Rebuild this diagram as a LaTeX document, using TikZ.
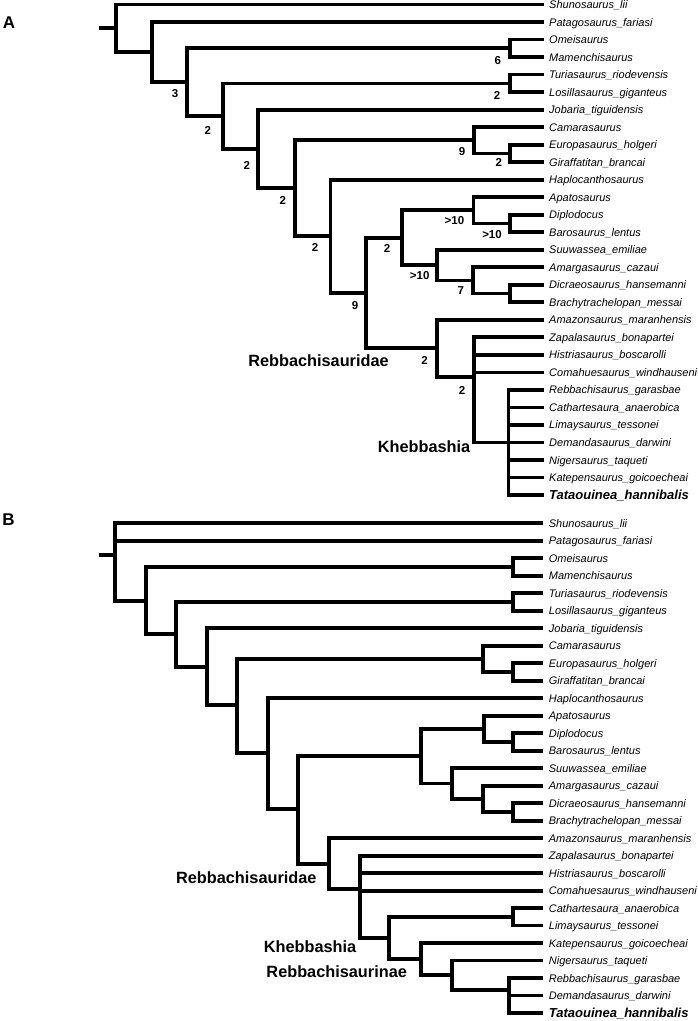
\documentclass[tikz,border=0pt]{standalone}
\usepackage{fontspec}
\setmainfont{Liberation Sans}
\begin{document}
\begin{tikzpicture}[x=1pt,y=-1pt,
  br/.style={line width=3.8pt, line join=miter, line cap=butt, black},
  tiplab/.style={anchor=base west, inner sep=0pt, font=\fontsize{11}{13}\selectfont\itshape},
  tipbold/.style={anchor=base west, inner sep=0pt, font=\fontsize{13}{15}\selectfont\bfseries\itshape},
  suplab/.style={anchor=center, inner sep=0pt, font=\fontsize{11.5}{13}\selectfont\bfseries},
  cladelab/.style={anchor=center, inner sep=0pt, font=\fontsize{16.3}{18}\selectfont\bfseries},
  panellab/.style={anchor=center, inner sep=0pt, font=\fontsize{17}{19}\selectfont\bfseries}]
\useasboundingbox (0,0) rectangle (698,1021);
% ---------------- Panel A ----------------
\node[panellab] (pA) at (9,22.7) {A};
\foreach \i/\nm in {0/Shunosaurus\_lii,1/Patagosaurus\_fariasi,2/Omeisaurus,3/Mamenchisaurus,
  4/Turiasaurus\_riodevensis,5/Losillasaurus\_giganteus,6/Jobaria\_tiguidensis,7/Camarasaurus,
  8/Europasaurus\_holgeri,9/Giraffatitan\_brancai,10/Haplocanthosaurus,11/Apatosaurus,
  12/Diplodocus,13/Barosaurus\_lentus,14/Suuwassea\_emiliae,15/Amargasaurus\_cazaui,
  16/Dicraeosaurus\_hansemanni,17/Brachytrachelopan\_messai,18/Amazonsaurus\_maranhensis,
  19/Zapalasaurus\_bonapartei,20/Histriasaurus\_boscarolli,21/Comahuesaurus\_windhauseni,
  22/Rebbachisaurus\_garasbae,23/Cathartesaura\_anaerobica,24/Limaysaurus\_tessonei,
  25/Demandasaurus\_darwini,26/Nigersaurus\_taqueti,27/Katepensaurus\_goicoecheai}{
  \coordinate (tA\i) at (544,{4.5+17.52*\i});
  \node[tiplab] (lA\i) at (549,{4.5+17.52*\i+4}) {\nm};
}
\coordinate (tA28) at (544,495.1);
\node[tipbold] (lA28) at (549,499.8) {Tataouinea\_hannibalis};

\coordinate (stubA) at (99,28.3);
\coordinate (rootA) at (116,28.3);
\coordinate (a1) at (151.7,52.1);
\coordinate (a2) at (186.7,82.2);
\coordinate (aOm) at (510,48.3);
\coordinate (a3) at (222.7,116.1);
\coordinate (aTu) at (510,83.4);
\coordinate (a4) at (258.3,148.9);
\coordinate (a5) at (295,188.3);
\coordinate (aCa) at (474.3,140.2);
\coordinate (aEu) at (510,153.4);
\coordinate (a6) at (330.5,236.3);
\coordinate (a7) at (366,293);
\coordinate (aFl) at (401.7,237.7);
\coordinate (aDi) at (473.5,210.3);
\coordinate (aDB) at (510,223.5);
\coordinate (aDc) at (437,265.1);
\coordinate (aAm) at (473,280.4);
\coordinate (aDB2) at (510,293.5);
\coordinate (aRe) at (437,348.2);
\coordinate (aPo) at (474,376.6);
\coordinate (aKh) at (508.5,442.5);

\draw[br] (stubA) -- (rootA);
\draw[br] (rootA) |- (tA0);  \draw[br] (rootA) |- (a1);
\draw[br] (a1) |- (tA1);     \draw[br] (a1) |- (a2);
\draw[br] (a2) |- (aOm);     \draw[br] (a2) |- (a3);
\draw[br] (aOm) |- (tA2);    \draw[br] (aOm) |- (tA3);
\draw[br] (a3) |- (aTu);     \draw[br] (a3) |- (a4);
\draw[br] (aTu) |- (tA4);    \draw[br] (aTu) |- (tA5);
\draw[br] (a4) |- (tA6);     \draw[br] (a4) |- (a5);
\draw[br] (a5) |- (aCa);     \draw[br] (a5) |- (a6);
\draw[br] (aCa) |- (tA7);    \draw[br] (aCa) |- (aEu);
\draw[br] (aEu) |- (tA8);    \draw[br] (aEu) |- (tA9);
\draw[br] (a6) |- (tA10);    \draw[br] (a6) |- (a7);
\draw[br] (a7) |- (aFl);     \draw[br] (a7) |- (aRe);
\draw[br] (aFl) |- (aDi);    \draw[br] (aFl) |- (aDc);
\draw[br] (aDi) |- (tA11);   \draw[br] (aDi) |- (aDB);
\draw[br] (aDB) |- (tA12);   \draw[br] (aDB) |- (tA13);
\draw[br] (aDc) |- (tA14);   \draw[br] (aDc) |- (aAm);
\draw[br] (aAm) |- (tA15);   \draw[br] (aAm) |- (aDB2);
\draw[br] (aDB2) |- (tA16);  \draw[br] (aDB2) |- (tA17);
\draw[br] (aRe) |- (tA18);   \draw[br] (aRe) |- (aPo);
\foreach \k in {19,20,21} {\draw[br] (aPo) |- (tA\k);}
\draw[br] (aPo) |- (aKh);
\foreach \k in {22,...,28} {\draw[br] (aKh) |- (tA\k);}

\node[suplab] (sA2) at (175,94) {3};
\node[suplab] (sAOm) at (497.7,61) {6};
\node[suplab] (sA3) at (207.7,130.7) {2};
\node[suplab] (sATu) at (497,95) {2};
\node[suplab] (sA4) at (246.7,165) {2};
\node[suplab] (sA5) at (282.7,200) {2};
\node[suplab] (sACa) at (462,151.7) {9};
\node[suplab] (sAEu) at (498.7,162.7) {2};
\node[suplab] (sA6) at (315,247) {2};
\node[suplab] (sA7) at (355,306) {9};
\node[suplab] (sAFl) at (387,248) {2};
\node[suplab] (sADi) at (454.5,220.7) {>10};
\node[suplab] (sADB) at (492,235) {>10};
\node[suplab] (sADc) at (419.7,276) {>10};
\node[suplab] (sAAm) at (460.7,290.7) {7};
\node[suplab] (sARe) at (424.5,360) {2};
\node[suplab] (sAPo) at (462,390) {2};
\node[cladelab] (cAR) at (318.5,361) {Rebbachisauridae};
\node[cladelab] (cAK) at (424,446.7) {Khebbashia};

% ---------------- Panel B ----------------
\node[panellab] (pB) at (8.5,519.3) {B};
\foreach \i/\nm in {0/Shunosaurus\_lii,1/Patagosaurus\_fariasi,2/Omeisaurus,3/Mamenchisaurus,
  4/Turiasaurus\_riodevensis,5/Losillasaurus\_giganteus,6/Jobaria\_tiguidensis,7/Camarasaurus,
  8/Europasaurus\_holgeri,9/Giraffatitan\_brancai,10/Haplocanthosaurus,11/Apatosaurus,
  12/Diplodocus,13/Barosaurus\_lentus,14/Suuwassea\_emiliae,15/Amargasaurus\_cazaui,
  16/Dicraeosaurus\_hansemanni,17/Brachytrachelopan\_messai,18/Amazonsaurus\_maranhensis,
  19/Zapalasaurus\_bonapartei,20/Histriasaurus\_boscarolli,21/Comahuesaurus\_windhauseni,
  22/Cathartesaura\_anaerobica,23/Limaysaurus\_tessonei,24/Katepensaurus\_goicoecheai,
  25/Nigersaurus\_taqueti,26/Rebbachisaurus\_garasbae,27/Demandasaurus\_darwini}{
  \coordinate (tB\i) at (542.7,{523.3+17.49*\i});
  \node[tiplab] (lB\i) at (548.7,{523.3+17.49*\i+4}) {\nm};
}
\coordinate (tB28) at (542.7,1013);
\node[tipbold] (lB28) at (548.7,1017.7) {Tataouinea\_hannibalis};

\coordinate (stubB) at (99,554.6);
\coordinate (rootB) at (115,554.6);
\coordinate (b1) at (145.7,600.7);
\coordinate (bOm) at (513.3,567);
\coordinate (b2) at (176,634.3);
\coordinate (bTu) at (513.3,602);
\coordinate (b3) at (206.7,667);
\coordinate (b4) at (237.3,705.3);
\coordinate (bCa) at (482.7,658.9);
\coordinate (bEu) at (513.3,672);
\coordinate (b5) at (268.3,753.3);
\coordinate (b6) at (298.3,809);
\coordinate (bFl) at (420.7,756.2);
\coordinate (bDi) at (484,728.8);
\coordinate (bDB) at (513.3,742);
\coordinate (bDc) at (451.7,783.5);
\coordinate (bAm) at (482.7,798.8);
\coordinate (bDB2) at (513.3,812);
\coordinate (bRe) at (329.3,863.7);
\coordinate (bPo) at (360,889.3);
\coordinate (bKh) at (389.3,938);
\coordinate (bCL) at (512.8,916.8);
\coordinate (bRn) at (420.7,959.2);
\coordinate (bNi) at (451.7,975.3);
\coordinate (bPt) at (509,990);

\draw[br] (stubB) -- (rootB);
\draw[br] (rootB) |- (tB0);  \draw[br] (rootB) |- (tB1);  \draw[br] (rootB) |- (b1);
\draw[br] (b1) |- (bOm);     \draw[br] (b1) |- (b2);
\draw[br] (bOm) |- (tB2);    \draw[br] (bOm) |- (tB3);
\draw[br] (b2) |- (bTu);     \draw[br] (b2) |- (b3);
\draw[br] (bTu) |- (tB4);    \draw[br] (bTu) |- (tB5);
\draw[br] (b3) |- (tB6);     \draw[br] (b3) |- (b4);
\draw[br] (b4) |- (bCa);     \draw[br] (b4) |- (b5);
\draw[br] (bCa) |- (tB7);    \draw[br] (bCa) |- (bEu);
\draw[br] (bEu) |- (tB8);    \draw[br] (bEu) |- (tB9);
\draw[br] (b5) |- (tB10);    \draw[br] (b5) |- (b6);
\draw[br] (b6) |- (bFl);     \draw[br] (b6) |- (bRe);
\draw[br] (bFl) |- (bDi);    \draw[br] (bFl) |- (bDc);
\draw[br] (bDi) |- (tB11);   \draw[br] (bDi) |- (bDB);
\draw[br] (bDB) |- (tB12);   \draw[br] (bDB) |- (tB13);
\draw[br] (bDc) |- (tB14);   \draw[br] (bDc) |- (bAm);
\draw[br] (bAm) |- (tB15);   \draw[br] (bAm) |- (bDB2);
\draw[br] (bDB2) |- (tB16);  \draw[br] (bDB2) |- (tB17);
\draw[br] (bRe) |- (tB18);   \draw[br] (bRe) |- (bPo);
\foreach \k in {19,20,21} {\draw[br] (bPo) |- (tB\k);}
\draw[br] (bPo) |- (bKh);
\draw[br] (bKh) |- (bCL);    \draw[br] (bKh) |- (bRn);
\draw[br] (bCL) |- (tB22);   \draw[br] (bCL) |- (tB23);
\draw[br] (bRn) |- (tB24);   \draw[br] (bRn) |- (bNi);
\draw[br] (bNi) |- (tB25);   \draw[br] (bNi) |- (bPt);
\foreach \k in {26,27,28} {\draw[br] (bPt) |- (tB\k);}

\node[cladelab] (cBR) at (246.3,877.7) {Rebbachisauridae};
\node[cladelab] (cBK) at (310,946.7) {Khebbashia};
\node[cladelab] (cBN) at (336.7,971.7) {Rebbachisaurinae};
\end{tikzpicture}
\end{document}
